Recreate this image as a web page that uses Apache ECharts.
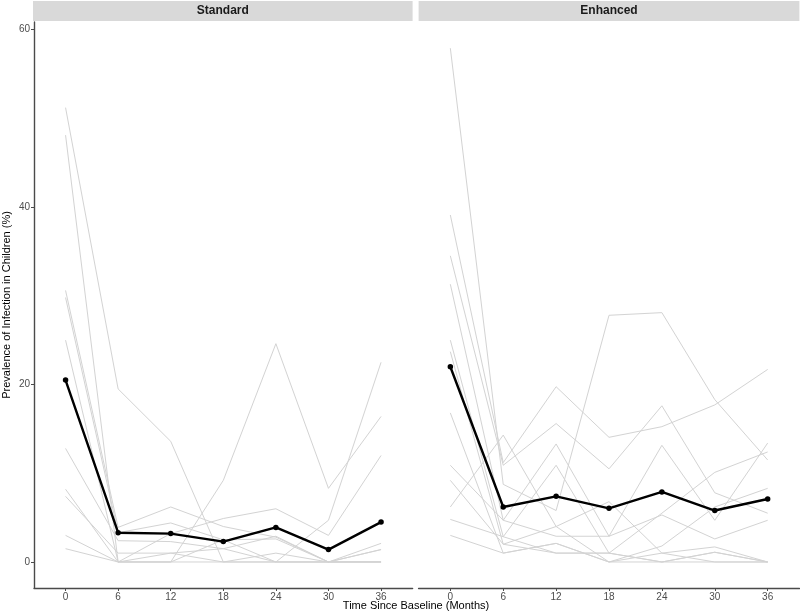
<!DOCTYPE html>
<html>
<head>
<meta charset="utf-8">
<script src="https://cdn.jsdelivr.net/npm/echarts@6/dist/echarts.min.js"></script>
<style>html,body{margin:0;padding:0;background:#fff}#c{width:800px;height:616px}</style>
</head>
<body>
<div id="c"></div>
<script>
const months = [0, 6, 12, 18, 24, 30, 36];
const yTicks = [0, 20, 40, 60];
const panelNames = ['Standard', 'Enhanced'];

const standardLines = [
  [51.2, 19.5, 13.6, 0, 0, 0, 0],
  [48.1, 0, 0, 9.2, 24.6, 8.3, 16.4],
  [30.6, 3.9, 6.2, 4.0, 2.8, 0, 1.4],
  [29.8, 3.3, 4.4, 2.5, 2.6, 0, 2.1],
  [25.0, 0, 3.2, 4.9, 6.0, 3.0, 12.0],
  [12.8, 2.4, 2.3, 1.5, 0, 4.7, 22.5],
  [8.2, 0, 1.0, 0, 1.0, 0, 0],
  [7.4, 1.0, 1.0, 1.5, 2.9, 0, 1.4],
  [3.0, 0, 0, 0, 0, 0, 0],
  [1.5, 0, 0, 2.5, 0, 0, 0]
];
const standardMean = [20.5, 3.3, 3.2, 2.3, 3.9, 1.4, 4.5];

const enhancedLines = [
  [57.9, 8.75, 5.8, 27.8, 28.1, 18.3, 11.5],
  [39.1, 11.2, 19.75, 14.05, 15.25, 17.7, 21.7],
  [34.5, 10.9, 15.6, 10.5, 17.6, 7.8, 5.5],
  [31.3, 4.7, 13.3, 2.9, 13.15, 4.7, 13.4],
  [25.0, 2.85, 10.9, 1.0, 5.5, 10.1, 12.4],
  [23.7, 2.0, 4.0, 6.8, 1.0, 0, 0],
  [16.8, 1.0, 2.1, 0, 1.8, 6.2, 8.3],
  [10.9, 4.7, 2.9, 2.9, 5.3, 2.6, 4.7],
  [9.2, 2.0, 1.0, 1.0, 0, 1.1, 0],
  [6.2, 14.3, 4.0, 0, 1.0, 1.7, 0],
  [4.8, 2.85, 1.0, 1.0, 0, 0, 0],
  [3.0, 1.0, 2.1, 0, 0, 1.1, 0]
];
const enhancedMean = [22.0, 6.2, 7.4, 6.05, 7.9, 5.8, 7.1];

const FONT = 'Liberation Sans, Arial, Helvetica, sans-serif';
const AXIS_COLOR = '#4a4a4a';
const LABEL_COLOR = '#4d4d4d';

function toPairs(vals) { return months.map((m, i) => [m, vals[i]]); }

const grids = [
  { left: 33, top: 22, width: 379.6, height: 566 },
  { left: 418.6, top: 22, width: 380.8, height: 566 }
];

function xAxisFor(idx) {
  return {
    type: 'value', gridIndex: idx, min: -3.6, max: 39.6,
    splitLine: { show: false },
    axisLine: { show: true, onZero: false, lineStyle: { color: AXIS_COLOR, width: 1.4 } },
    axisTick: { show: true, length: 3, customValues: months, lineStyle: { color: AXIS_COLOR, width: 1 } },
    axisLabel: { customValues: months, color: LABEL_COLOR, fontSize: 10, fontFamily: FONT, margin: 4 }
  };
}
function yAxisFor(idx) {
  const show = idx === 0;
  return {
    type: 'value', gridIndex: idx, min: -2.93, max: 60.85,
    splitLine: { show: false },
    axisLine: { show: show, onZero: false, lineStyle: { color: AXIS_COLOR, width: 1.4 } },
    axisTick: { show: show, length: 3, customValues: yTicks, lineStyle: { color: AXIS_COLOR, width: 1 } },
    axisLabel: { show: show, customValues: yTicks, color: LABEL_COLOR, fontSize: 10, fontFamily: FONT, margin: 4 },
    name: show ? 'Prevalence of Infection in Children (%)' : '',
    nameLocation: 'middle', nameGap: 22, nameRotate: 90,
    nameTextStyle: { color: '#000', fontSize: 11, fontFamily: FONT }
  };
}

const series = [];
[standardLines, enhancedLines].forEach((lines, p) => {
  lines.forEach(vals => {
    series.push({
      type: 'line', xAxisIndex: p, yAxisIndex: p, data: toPairs(vals),
      symbol: 'none', silent: true, z: 2,
      lineStyle: { color: '#d3d3d3', width: 1 }
    });
  });
});
[standardMean, enhancedMean].forEach((vals, p) => {
  series.push({
    type: 'line', xAxisIndex: p, yAxisIndex: p, data: toPairs(vals),
    symbol: 'circle', symbolSize: 5.5, z: 5,
    itemStyle: { color: '#000' },
    lineStyle: { color: '#000', width: 2.4 }
  });
});

const graphics = [];
grids.forEach((g, i) => {
  graphics.push({
    type: 'rect', left: g.left, top: 1, silent: true,
    shape: { width: g.width, height: 20 },
    style: { fill: '#d9d9d9' }
  });
  graphics.push({
    type: 'text', x: g.left + g.width / 2, y: 11, silent: true,
    style: { text: panelNames[i], fill: '#1a1a1a', font: 'bold 12px ' + FONT, align: 'center', verticalAlign: 'middle' }
  });
});
graphics.push({
  type: 'text', x: 416, y: 606, silent: true,
  style: { text: 'Time Since Baseline (Months)', fill: '#000', font: '11px ' + FONT, align: 'center', verticalAlign: 'middle' }
});

const chart = echarts.init(document.getElementById('c'), null, { renderer: 'canvas' });
chart.setOption({
  animation: false,
  backgroundColor: '#fff',
  grid: grids,
  xAxis: [xAxisFor(0), xAxisFor(1)],
  yAxis: [yAxisFor(0), yAxisFor(1)],
  series: series,
  graphic: graphics
});
</script>
</body>
</html>
